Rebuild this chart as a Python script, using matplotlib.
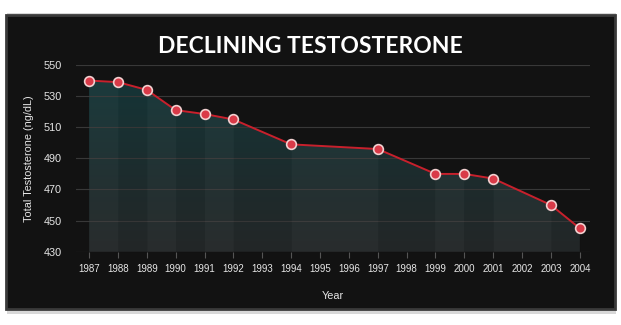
import numpy as np
import matplotlib.pyplot as plt
from matplotlib.patches import Rectangle, Polygon

# данные
years = list(range(1987, 2005))
data_years = [1987, 1988, 1989, 1990, 1991, 1992, 1994, 1997, 1999, 2000, 2001, 2003, 2004]
values = [540, 539, 534, 521, 518.5, 515, 499, 496, 480, 480, 477, 460, 445]
yticks = [430, 450, 470, 490, 510, 530, 550]

fig = plt.figure(figsize=(6.21, 3.25), dpi=100, facecolor='white')

# тень и тёмная панель
fig.patches.append(Rectangle((0.012, 0.035), 0.98, 0.925, transform=fig.transFigure,
                             facecolor='#d8d8d8', edgecolor='none', zorder=-2))
fig.patches.append(Rectangle((0.01, 0.05), 0.98, 0.905, transform=fig.transFigure,
                             facecolor='#121212', edgecolor='#3a3a3a', linewidth=2, zorder=-1))

ax = fig.add_axes([0.122, 0.2255, 0.828, 0.5745])
ax.set_facecolor('none')
x = np.array([years.index(y) for y in data_years])
v = np.array(values)

ax.set_xlim(-0.46, 17.35)
ax.set_ylim(430, 550)

# градиентная заливка под линией
grad = np.linspace(0, 1, 256).reshape(-1, 1)
c_top = np.array([0x15, 0x38, 0x3a]) / 255
c_bot = np.array([0x24, 0x27, 0x28]) / 255
img = c_bot + (c_top - c_bot) * grad
img = img.reshape(256, 1, 3)
im = ax.imshow(img, extent=[x[0], x[-1], 430, 550], origin='lower', aspect='auto', zorder=1)
poly = Polygon(np.vstack([[x[0], 430], np.column_stack([x, v]), [x[-1], 430]]),
               closed=True, transform=ax.transData, facecolor='none', edgecolor='none')
ax.add_patch(poly)
im.set_clip_path(poly)

# полосы между точками
for i in range(len(x) - 1):
    shade = '#000000' if i % 2 else '#ffffff'
    ax.fill_between([x[i], x[i + 1]], [v[i], v[i + 1]], 430, color=shade,
                    alpha=0.025, linewidth=0, zorder=2)

ax.set_yticks(yticks)
ax.grid(axis='y', color='#383838', linewidth=0.8, zorder=0)
ax.set_xticks(range(len(years)))
ax.set_xticklabels([str(y) for y in years])

ax.plot(x, v, color='#c8202c', linewidth=1.4, zorder=3)
ax.plot(x, v, 'o', markersize=7, markerfacecolor='#d93a48',
        markeredgecolor='#f2d0d0', markeredgewidth=1.2, zorder=4)

for s in ax.spines.values():
    s.set_visible(False)
ax.tick_params(axis='x', colors='#555555', length=4, width=0.8, pad=5,
               labelcolor='#e6e6e6', labelsize=7)
ax.tick_params(axis='y', length=0, pad=10, labelcolor='#e6e6e6', labelsize=7.8)
for t in ax.get_xticklabels() + ax.get_yticklabels():
    t.set_family('Liberation Sans')

ax.set_xlabel('Year', color='#e6e6e6', fontsize=7.8, family='Liberation Sans', labelpad=12)
ax.set_ylabel('Total Testosterone (ng/dL)', color='#e6e6e6', fontsize=7.8,
              family='Liberation Sans', labelpad=7)

fig.text(0.5, 0.858, 'DECLINING TESTOSTERONE', ha='center', va='center',
         color='white', fontsize=16.5, family='Lato', fontweight='bold')

fig.savefig('out.png', dpi=100, facecolor='white')
